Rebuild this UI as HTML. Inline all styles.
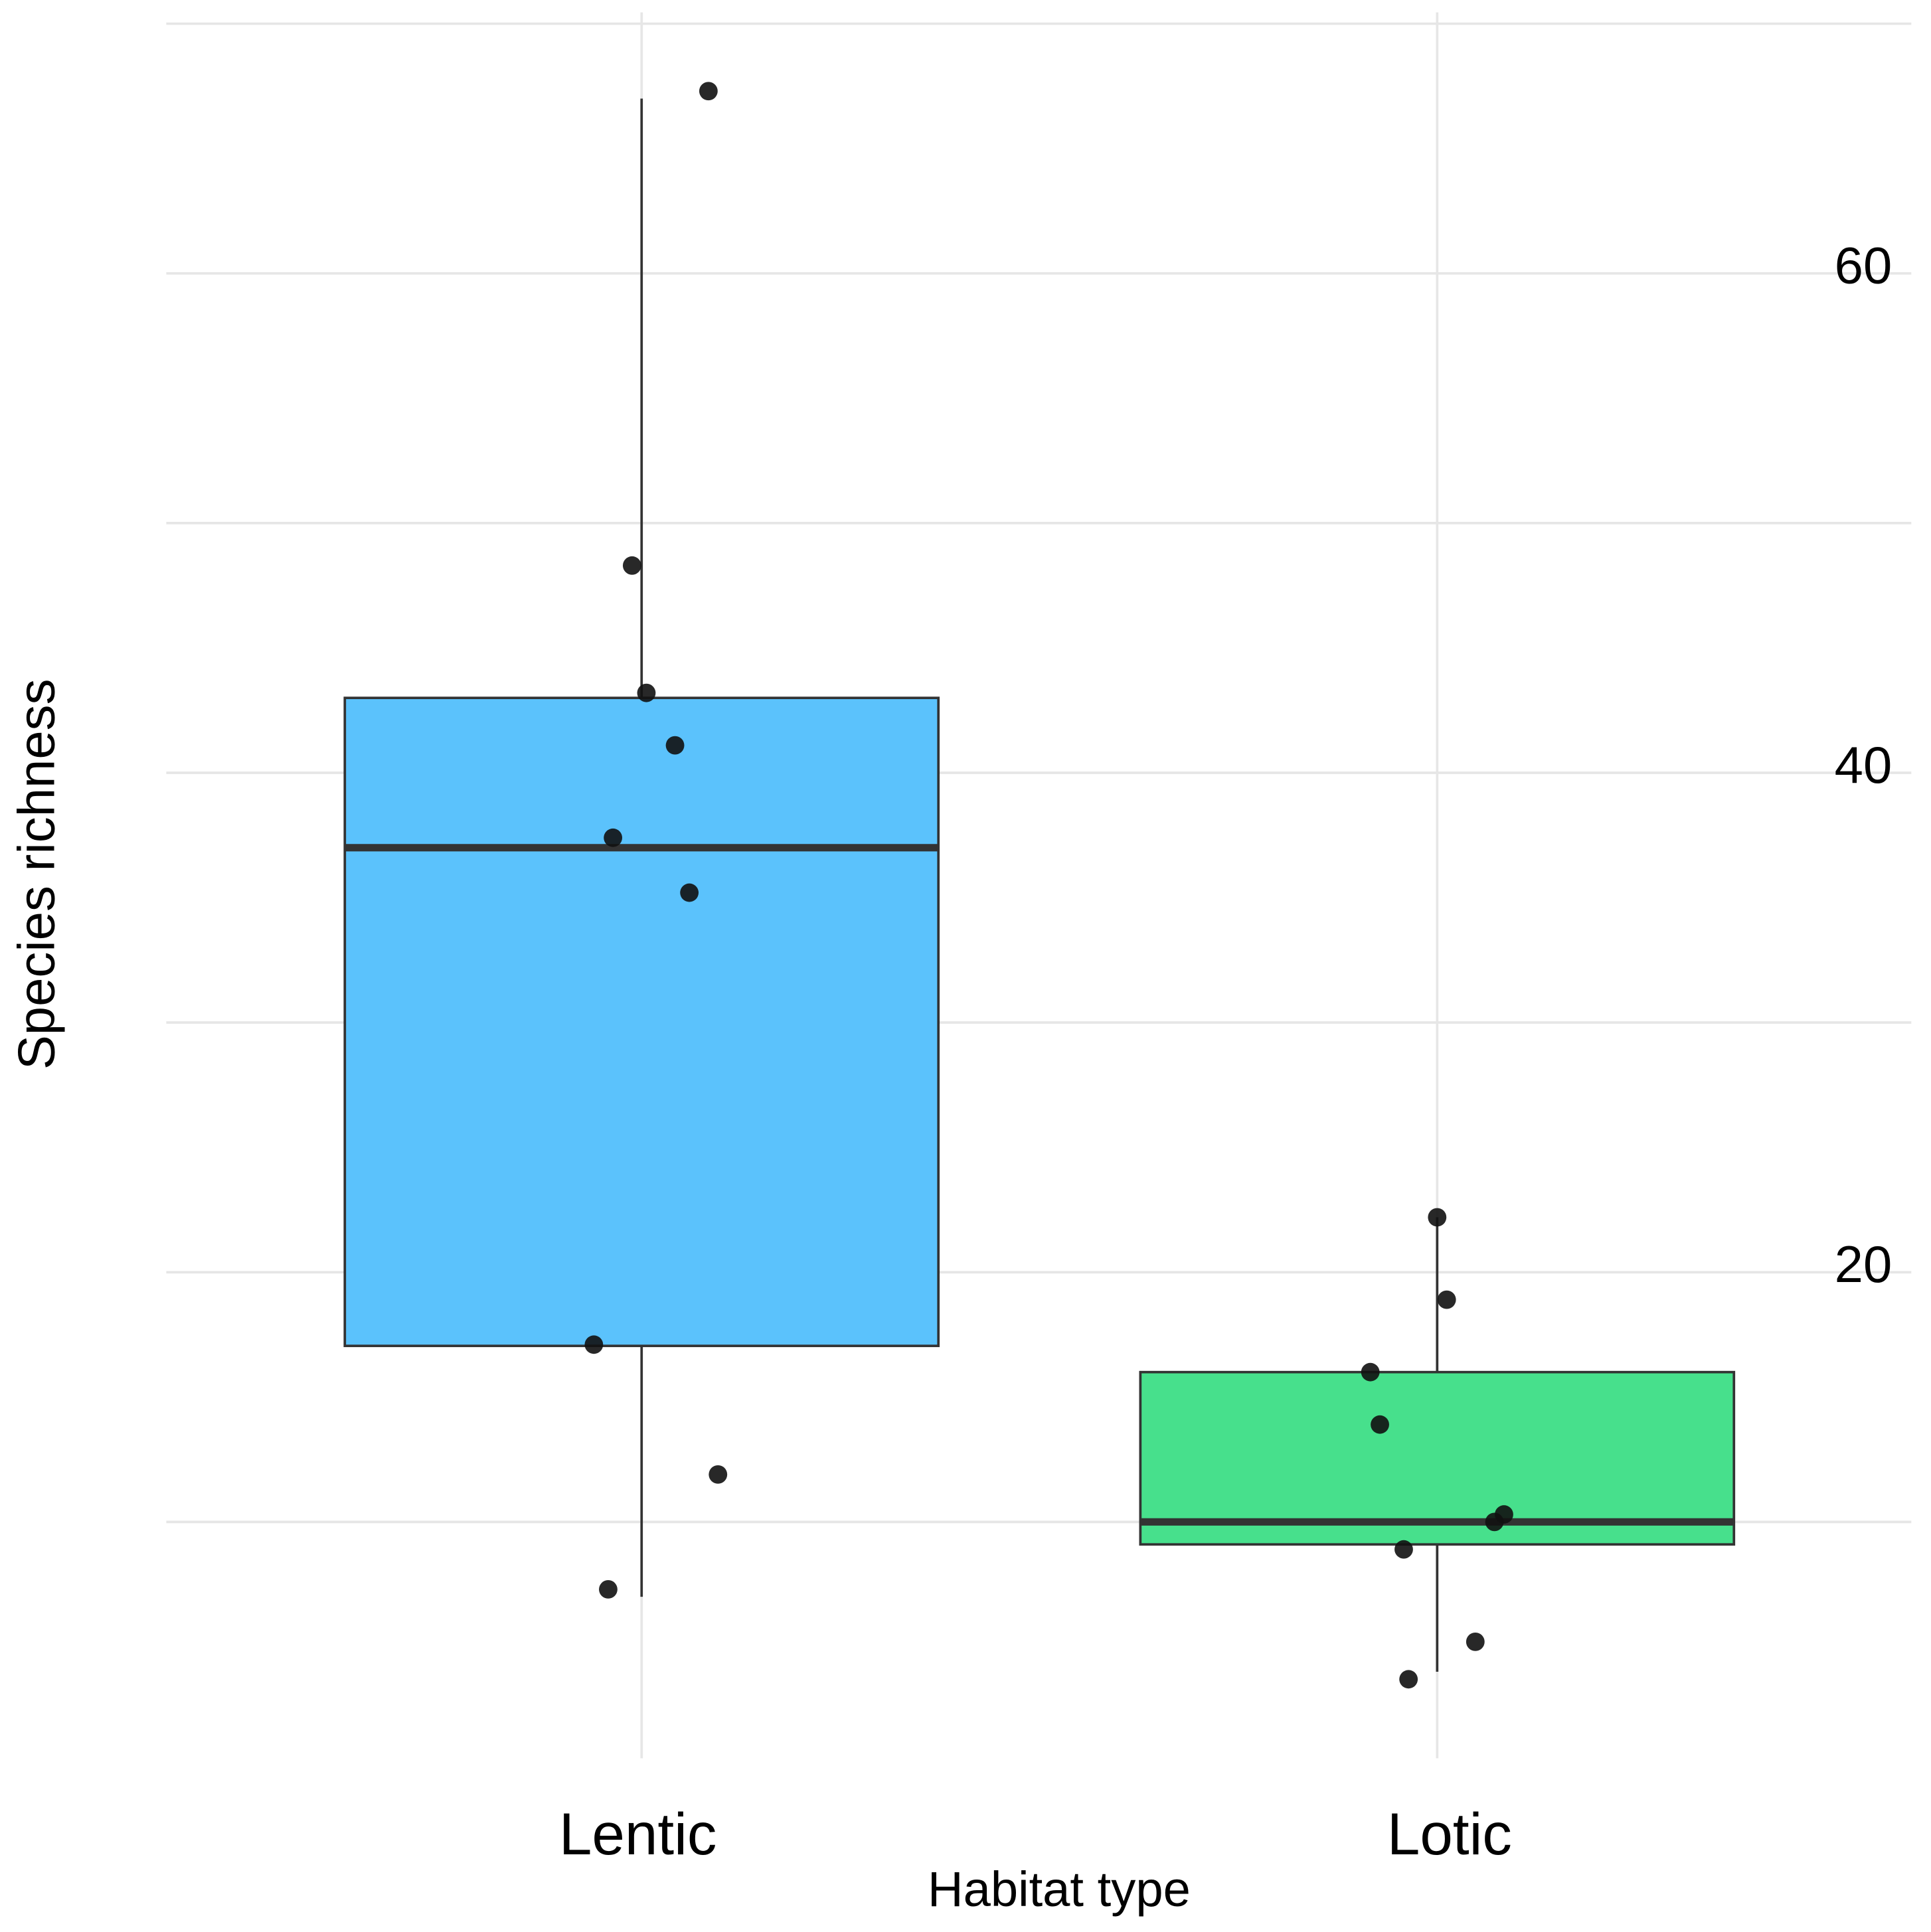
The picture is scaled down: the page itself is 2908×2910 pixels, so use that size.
<!DOCTYPE html>
<html><head><meta charset="utf-8"><style>
html,body{margin:0;padding:0;background:#fff}
svg{display:block}
text{font-family:"Liberation Sans",sans-serif;fill:#000}
</style></head><body>
<svg id="chart" width="2908" height="2910" viewBox="0 0 1568 1569" xmlns="http://www.w3.org/2000/svg">
<g id="grid"></g>
<g id="boxes"></g>
<g id="pts"></g>
<g id="ticks"></g>
<g id="cats"></g>
<text x="860" y="1548" font-size="40" text-anchor="middle">Habitat type</text>
<text transform="translate(44,710) rotate(-90)" font-size="42" text-anchor="middle">Species richness</text>
</svg>
<script>
const categories=["Lentic","Lotic"];
const q1=[17.05,9.1];
const median=[37.0,10.0];
const q3=[43.0,16.0];
const whiskerLow=[7.0,4.0];
const whiskerHigh=[67.0,22.2];
const lenticPoints=[67.3,48.3,43.2,41.1,37.4,35.2,17.1,11.9,7.3];
const lenticJitter=[0.14,-0.02,0.01,0.07,-0.06,0.10,-0.10,0.16,-0.07];
const loticPoints=[22.2,18.9,16.0,13.9,10.3,10.0,8.9,5.2,3.7];
const loticJitter=[0.0,0.02,-0.14,-0.12,0.14,0.12,-0.07,0.08,-0.06];
const tickValues=[20,40,60];
const gridValues=[10,20,30,40,50,60,70];
const fills=["#5bc2fc","#47e08c"];

const NS="http://www.w3.org/2000/svg";
const y=v=>1236-(v-10)*20.28;
const xc=i=>521+i*646;
const halfW=241;
const unit=646*0.6;
function mk(tag,attrs,parent){const e=document.createElementNS(NS,tag);for(const k in attrs)e.setAttribute(k,attrs[k]);parent.appendChild(e);return e;}
const grid=document.getElementById('grid');
gridValues.forEach(v=>{const l=mk('line',{x1:135,x2:1552,y1:y(v),y2:y(v),stroke:'#e6e6e6','stroke-width':2},grid);

});
categories.forEach((c,i)=>{const l=mk('line',{x1:xc(i),x2:xc(i),y1:10,y2:1428,stroke:'#e6e6e6','stroke-width':2},grid);

});
const boxes=document.getElementById('boxes');
categories.forEach((c,i)=>{
const w=mk('line',{x1:xc(i),x2:xc(i),y1:y(whiskerHigh[i]),y2:y(whiskerLow[i]),stroke:'#333','stroke-width':2},boxes);


const r=mk('rect',{x:xc(i)-halfW,y:y(q3[i]),width:halfW*2,height:y(q1[i])-y(q3[i]),fill:fills[i],stroke:'#333','stroke-width':2},boxes);


const m=mk('line',{x1:xc(i)-halfW,x2:xc(i)+halfW,y1:y(median[i]),y2:y(median[i]),stroke:'#333','stroke-width':6},boxes);


});
const pts=document.getElementById('pts');
[[lenticPoints,lenticJitter],[loticPoints,loticJitter]].forEach((s,i)=>{
s[0].forEach((v,j)=>{const p=mk('circle',{cx:xc(i)+s[1][j]*unit,cy:y(v),r:7.5,fill:'#111','fill-opacity':0.9},pts);

});
});
const ticks=document.getElementById('ticks');
tickValues.forEach(v=>{const t=mk('text',{x:1513,y:y(v)+8,'font-size':42,'text-anchor':'middle'},ticks);t.textContent=v;

});
const cats=document.getElementById('cats');
categories.forEach((c,i)=>{const t=mk('text',{x:xc(i)+(i?10:-3),y:1506,'font-size':48,'text-anchor':'middle'},cats);t.textContent=c;

});
</script>
</body></html>
